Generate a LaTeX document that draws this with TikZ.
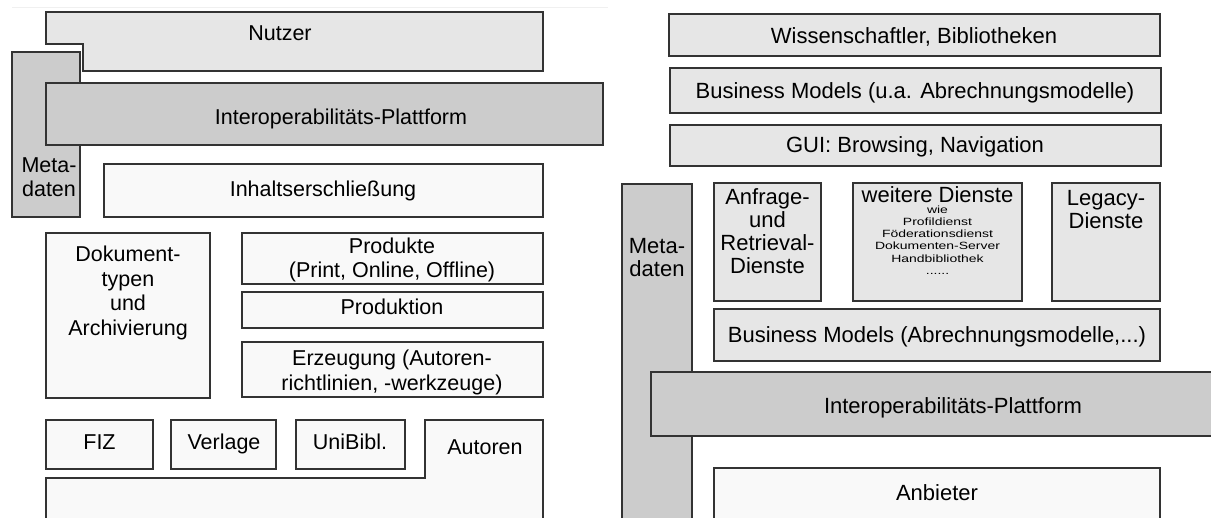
\documentclass[tikz,border=0pt]{standalone}
\usepackage{fontspec}
\setmainfont{Liberation Sans}
\newfontfamily\smallfont[FakeStretch=1.33]{Liberation Sans}
\usepackage{tikz}

\definecolor{layerlight}{HTML}{E6E6E6}
\definecolor{layermid}{HTML}{CCCCCC}
\definecolor{layerpale}{HTML}{F9F9F9}
\definecolor{edgegray}{HTML}{333333}

\tikzset{
    box/.style={draw=edgegray, line width=1.1pt},
    lightbox/.style={box, fill=layerlight},
    midbox/.style={box, fill=layermid},
    palebox/.style={box, fill=layerpale},
    % one line of text, centred on its capitals
    lbl/.style={inner sep=0pt, text height=15.5pt, text depth=0pt,
        font=\fontsize{21.5}{24.5}\selectfont},
    rlbl/.style={lbl, font=\fontsize{22}{23}\selectfont},
    % several lines
    mlbl/.style={inner sep=0pt, align=center, font=\fontsize{21.5}{24.5}\selectfont},
    rmlbl/.style={mlbl, font=\fontsize{22}{23}\selectfont},
    smalllbl/.style={inner sep=0pt, align=center,
        font=\smallfont\fontsize{10.5}{12.2}\selectfont},
}

\begin{document}
\begin{tikzpicture}[x=1pt,y=-1pt]
        \useasboundingbox (0,0) rectangle (1211,518);
        \clip (0,0) rectangle (1211,518);
        \draw[black!6, line width=0.8pt] (12,7) -- (608,7);

        % left stack
        \draw[midbox] (12,52) rectangle (80,217);
        \node[mlbl] (metaL) at (49,177) {Meta-\\daten};

        \draw[lightbox] (46,12) -- (543,12) -- (543,71) -- (83,71) -- (83,44) -- (46,44) -- cycle;
        \node[lbl] (nutzer) at (280,33) {Nutzer};

        \draw[midbox] (46,83) rectangle (603,145);
        \node[lbl] (interopL) at (341,117) {Interoperabilitäts-Plattform};

        \draw[palebox] (104,164) rectangle (543,217);
        \node[lbl] (inhalt) at (323,189) {Inhaltserschließung};

        % middle block
        \draw[palebox] (46,233) rectangle (210,398);
        \node[mlbl] (doktyp) at (128,293) {Dokument-\\typen\\und\\Archivierung};

        \draw[palebox] (242,233) rectangle (543,284);
        \node[mlbl] (produkte) at (392,260) {Produkte\\(Print, Online, Offline)};

        \draw[palebox] (242,292) rectangle (543,328);
        \node[lbl] (produktion) at (392,307) {Produktion};

        \draw[palebox] (242,342) rectangle (543,397);
        \node[mlbl] (erzeugung) at (392,372.5) {Erzeugung (Autoren-\\richtlinien, -werkzeuge)};

        % bottom line
        \draw[palebox] (46,420) rectangle (153,469);
        \node[lbl] (fiz) at (99.5,442) {FIZ};
        \draw[palebox] (171,420) rectangle (276,469);
        \node[lbl] (verlage) at (224,442) {Verlage};
        \draw[palebox] (296,420) rectangle (405,469);
        \node[lbl] (unibibl) at (350,442) {UniBibl.};
        \draw[palebox] (425,420) -- (543,420) -- (543,530) -- (46,530) -- (46,478) -- (425,478) -- cycle;
        \node[lbl] (autoren) at (485,447) {Autoren};

        % right stack
        \draw[lightbox] (669,14) rectangle (1160,56);
        \node[rlbl] (wiss) at (914,36) {Wissenschaftler, Bibliotheken};

        \draw[lightbox] (670,68) rectangle (1161,113);
        \node[rlbl] (bizTop) at (915,91) {Business Models (u.a. Abrechnungsmodelle)};

        \draw[lightbox] (670,125) rectangle (1161,166);
        \node[rlbl] (gui) at (915,145) {GUI: Browsing, Navigation};

        \draw[midbox] (622,184) rectangle (692,530);
        \node[rmlbl] (metaR) at (657,258) {Meta-\\daten};

        % services
        \draw[lightbox] (714,183) rectangle (821,301);
        \node[rmlbl] (anfrage) at (767.5,231) {Anfrage-\\und\\Retrieval-\\Dienste};

        \draw[lightbox] (853,183) rectangle (1022,301);
        \node[rlbl] (weitere) at (937.5,195) {weitere Dienste};
        \node[smalllbl] (weitereList) at (937.5,240) {wie\\Profildienst\\Föderationsdienst\\Dokumenten-Server\\Handbibliothek\\......};

        \draw[lightbox] (1052,183) rectangle (1160,301);
        \node[rmlbl] (legacy) at (1106,209.5) {Legacy-\\Dienste};

        \draw[lightbox] (714,309) rectangle (1160,361);
        \node[rlbl] (bizLow) at (937,335) {Business Models (Abrechnungsmodelle,...)};

        \draw[midbox] (651,372) rectangle (1260,436);
        \node[rlbl] (interopR) at (953,406) {Interoperabilitäts-Plattform};

        \draw[palebox] (714,468) rectangle (1160,530);
        \node[rlbl] (anbieter) at (937,493) {Anbieter};
\end{tikzpicture}
\end{document}
